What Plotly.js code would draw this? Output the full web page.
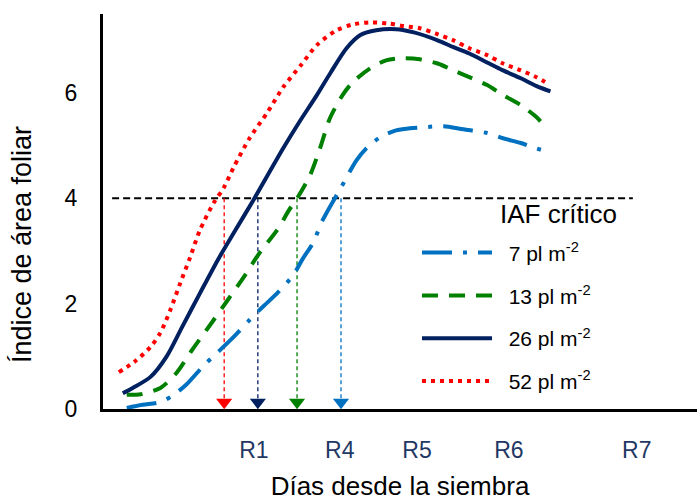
<!DOCTYPE html>
<html>
<head>
<meta charset="utf-8">
<script src="https://cdn.plot.ly/plotly-3.0.1.min.js"></script>
<style>html,body{margin:0;padding:0;background:#fff;}#chart{width:697px;height:501px;}</style>
</head>
<body>
<div id="chart"></div>
<script>
// Days after sowing (x) and leaf area index (y)
const seriesNames = ["\u00A0\u00A07 pl m<sup>-2</sup>", "\u00A0\u00A013 pl m<sup>-2</sup>", "\u00A0\u00A026 pl m<sup>-2</sup>", "\u00A0\u00A052 pl m<sup>-2</sup>"];

const days7  = [6, 10, 14.5, 17.5, 21, 25.5, 29, 33, 37, 40.5, 44, 48, 50.5, 53, 55.5, 60, 64, 66.5, 70, 74, 77.5, 81, 86, 91, 97, 101, 105.5, 108.5, 112.5];
const iaf7   = [0.02, 0.08, 0.13, 0.25, 0.46, 0.83, 1.08, 1.37, 1.69, 1.95, 2.20, 2.54, 2.86, 3.15, 3.59, 4.19, 4.72, 4.95, 5.16, 5.29, 5.33, 5.35, 5.37, 5.31, 5.24, 5.14, 5.05, 4.97, 4.88];

const days13 = [6, 9.5, 14.5, 18.5, 22.5, 27, 31.5, 35.5, 39.5, 44, 47, 49, 52.3, 54.8, 57.3, 60.5, 63, 67.5, 71.5, 76, 80, 84.5, 88.5, 92.5, 97, 101, 105.5, 109.5, 110.5];
const iaf13  = [0.27, 0.28, 0.40, 0.68, 1.12, 1.59, 2.07, 2.50, 2.96, 3.40, 3.78, 4.00, 4.44, 4.95, 5.52, 5.96, 6.20, 6.47, 6.62, 6.66, 6.64, 6.56, 6.43, 6.30, 6.15, 5.96, 5.77, 5.54, 5.46];

const days26 = [5, 7.5, 12, 16, 20, 24.5, 29, 33, 38, 45.5, 49.5, 54, 57.5, 61.5, 65, 69, 74, 78.5, 84.5, 88.5, 92.5, 97, 101, 105.5, 109.5, 113];
const iaf26  = [0.30, 0.40, 0.61, 0.99, 1.56, 2.20, 2.83, 3.34, 3.97, 4.95, 5.44, 5.96, 6.39, 6.85, 7.10, 7.19, 7.21, 7.15, 7.00, 6.87, 6.75, 6.58, 6.43, 6.28, 6.13, 6.03];

const days52 = [4, 8, 12, 14.5, 17, 19.5, 22, 24.5, 28, 30.5, 33, 37, 41.5, 45.5, 50, 54, 59, 63, 67.5, 72, 76, 80, 84, 88.5, 92.5, 97, 101, 105.5, 109.5, 112.5];
const iaf52  = [0.70, 0.90, 1.18, 1.45, 1.88, 2.39, 2.88, 3.40, 3.92, 4.20, 4.59, 5.14, 5.63, 6.11, 6.53, 6.91, 7.19, 7.30, 7.34, 7.32, 7.27, 7.23, 7.13, 7.00, 6.85, 6.72, 6.56, 6.43, 6.30, 6.17];

// Critical LAI
const iafCritico = 4;
const criticoDays = [2.3, 133.8];
// Day at which each density reaches the critical LAI (arrows): 7, 13, 26, 52 pl m-2
const reachDays = [60.1, 49.0, 39.1, 30.6];

// Phenological stages on the x axis
const stageDays = [38.1, 59.8, 79.3, 102.5, 134.8];
const stageLabels = ["R1", "R4", "R5", "R6", "R7"];

const yTicks = [0, 2, 4, 6];

const colors = ["#0070C0", "#008000", "#002060", "#FF0000"];
const dashes = ["30px,11px,4px,11px", "16px,11px", "solid", "4px,5px"];
const FONT = 'Arial, "Liberation Sans", sans-serif';

const xs = [days7, days13, days26, days52];
const ys = [iaf7, iaf13, iaf26, iaf52];

const traces = [];
// critical line
traces.push({
  x: criticoDays, y: [iafCritico, iafCritico], mode: 'lines',
  line: {color: '#000', width: 2, dash: '7px,4px'},
  showlegend: false, hoverinfo: 'skip'
});
// arrows
for (let i = 0; i < 4; i++) {
  traces.push({
    x: [reachDays[i], reachDays[i]], y: [iafCritico, 0.1], mode: 'lines',
    line: {color: colors[i], width: 1.3, dash: '4px,3px'},
    showlegend: false, hoverinfo: 'skip'
  });
  traces.push({
    x: [reachDays[i]], y: [0.13], mode: 'markers',
    marker: {symbol: 'triangle-down', size: 14, color: colors[i]},
    showlegend: false, hoverinfo: 'skip', cliponaxis: false
  });
}
// curves
for (let i = 0; i < 4; i++) {
  traces.push({
    x: xs[i], y: ys[i], mode: 'lines', name: seriesNames[i],
    legendgroup: 'g' + i,
    line: {color: colors[i], width: 4, dash: dashes[i], shape: 'spline', smoothing: 0.8}
  });
}

const layout = {
  width: 697, height: 501,
  margin: {l: 103, r: 0, t: 14, b: 92},
  paper_bgcolor: '#fff', plot_bgcolor: '#fff',
  font: {family: FONT, color: '#000', size: 21},
  showlegend: true,
  legend: {
    x: 0.5286, xanchor: 'left', y: 0.447, yanchor: 'top',
    font: {family: FONT, size: 21, color: '#000'},
    itemwidth: 70, tracegroupgap: 12.5, bgcolor: 'rgba(0,0,0,0)', borderwidth: 0
  },
  xaxis: {
    range: [0, 150], showgrid: false, zeroline: false,
    showline: true, linecolor: '#000', linewidth: 3,
    tickmode: 'array', tickvals: stageDays, ticktext: stageLabels,
    ticks: 'outside', ticklen: 18, tickcolor: 'rgba(0,0,0,0)',
    tickfont: {family: FONT, size: 23, color: '#1F3864'},
    title: {text: 'Días desde la siembra', font: {family: FONT, size: 26, color: '#000'}, standoff: 16}
  },
  yaxis: {
    range: [0, 7.5], showgrid: false, zeroline: false,
    showline: true, linecolor: '#000', linewidth: 3,
    tickmode: 'array', tickvals: yTicks,
    ticks: 'outside', ticklen: 18, tickcolor: 'rgba(0,0,0,0)',
    tickfont: {family: FONT, size: 23, color: '#000'}
  },
  annotations: [
    {text: 'Índice de área foliar', textangle: -90, xref: 'paper', yref: 'paper',
     x: 0, xshift: -81, y: 0.415, xanchor: 'center', yanchor: 'middle', showarrow: false,
     font: {family: FONT, size: 27, color: '#000'}},
    {text: 'IAF crítico', xref: 'paper', yref: 'paper', x: 0.766, y: 0.494,
     xanchor: 'center', yanchor: 'middle', showarrow: false,
     font: {family: FONT, size: 26, color: '#000'}}
  ]
};

Plotly.newPlot('chart', traces, layout, {staticPlot: true, displayModeBar: false});
</script>
</body>
</html>
